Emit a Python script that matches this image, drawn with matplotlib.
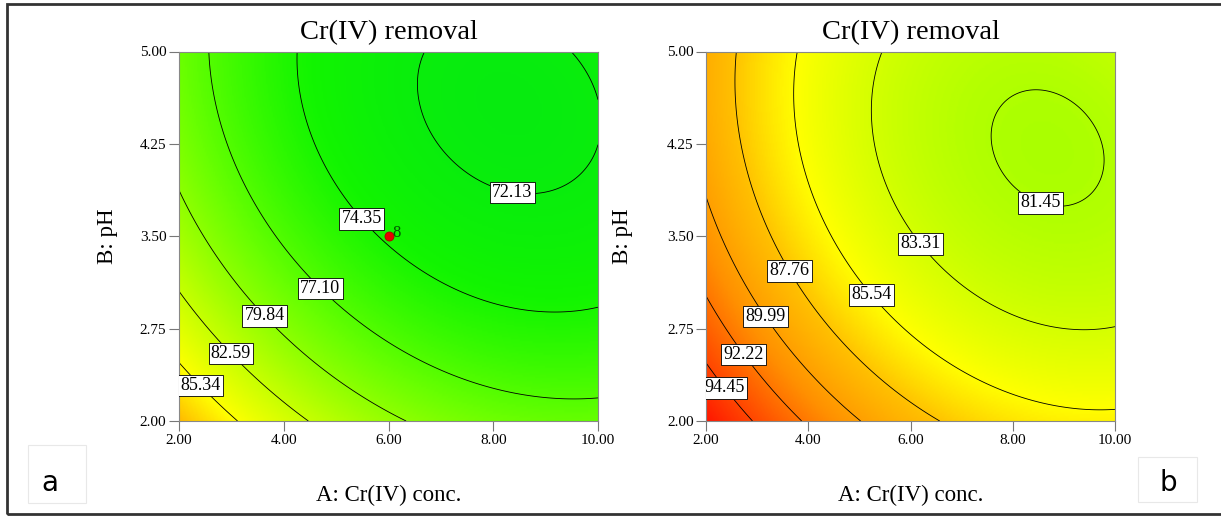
import numpy as np
import matplotlib
matplotlib.use('Agg')
import matplotlib.pyplot as plt
from matplotlib.colors import LinearSegmentedColormap
from matplotlib.patches import Rectangle

# quadratic response-surface models in coded units
# terms: const, a, b, a*b, a^2, b^2   (a = (A-6)/4, b = (B-3.5)/1.5)
coef_a = [74.150, -3.987, -3.848, 1.074, 2.790, 2.247]
coef_b = [83.397, -4.414, -2.847, 1.057, 2.915, 2.238]

# contour levels as labelled
levels_a = [72.13, 74.35, 77.10, 79.84, 82.59, 85.34]
levels_b = [81.45, 83.31, 85.54, 87.76, 89.99, 92.22, 94.45]

# where each level's label sits (A, B)
label_pos_a = [(8.37, 3.87), (5.46, 3.63), (4.75, 3.10), (3.70, 2.88), (3.07, 2.58), (2.47, 2.31)]
label_pos_b = [(8.56, 3.79), (6.23, 3.45), (5.31, 3.05), (3.68, 3.23), (3.21, 2.86), (2.80, 2.56), (2.46, 2.30)]

# design centre point (panel a) and its replicate count
center_A, center_B, center_n = 6.0, 3.5, 8

x_ticks = [2, 4, 6, 8, 10]
y_ticks = [2.0, 2.75, 3.5, 4.25, 5.0]


def design(A, B):
    a = (np.asarray(A) - 6.0) / 4.0
    b = (np.asarray(B) - 3.5) / 1.5
    return np.stack([np.ones_like(a), a, b, a * b, a * a, b * b], axis=-1)


cmap_vals = [70, 74, 78, 82, 85.5, 88, 91, 94, 97]
cmap_cols = ['#00e61a', '#12f500', '#66ff00', '#bbff00', '#ffff00', '#ffbe00', '#ff9000', '#ff5000', '#ff1500']
cmap = LinearSegmentedColormap.from_list(
    'de', [((v - 70) / 27.0, c) for v, c in zip(cmap_vals, cmap_cols)])

serif = 'Liberation Serif'
fig = plt.figure(figsize=(12.21, 5.19), dpi=100)
W, H = 1221.0, 519.0


def panel(rect, coef, levels, lab_pos, ylab_x):
    ax = fig.add_axes(rect)
    A = np.linspace(2, 10, 300)
    B = np.linspace(2, 5, 200)
    AA, BB = np.meshgrid(A, B)
    Z = design(AA, BB) @ np.array(coef)
    ax.imshow(Z, extent=(2, 10, 2, 5), origin='lower', aspect='auto',
              cmap=cmap, vmin=70, vmax=97, interpolation='bilinear')
    cs = ax.contour(AA, BB, Z, levels=levels, colors='k', linewidths=0.6)
    texts = ax.clabel(cs, fmt='%.2f', manual=lab_pos, inline=False, fontsize=13)
    for t in texts:
        t.set_rotation(0)
        t.set_fontfamily(serif)
        t.set_bbox(dict(boxstyle='square,pad=0.12', fc='white', ec='black', lw=0.6))
    ax.set_xlim(2, 10)
    ax.set_ylim(2, 5)
    ax.set_xticks(x_ticks)
    ax.set_xticklabels(['%.2f' % v for v in x_ticks], fontfamily=serif, fontsize=11)
    ax.set_yticks(y_ticks)
    ax.set_yticklabels(['%.2f' % v for v in y_ticks], fontfamily=serif, fontsize=11)
    ax.tick_params(direction='out', length=7, width=0.8, color='#777777', pad=2)
    for s in ax.spines.values():
        s.set_color('#888888')
        s.set_linewidth(0.8)
    ax.text(0.5, 1.05, 'Cr(IV) removal', transform=ax.transAxes, ha='center',
            va='center', fontfamily=serif, fontsize=20.5)
    ax.set_xlabel('A: Cr(IV) conc.', fontfamily=serif, fontsize=16.5)
    ax.xaxis.set_label_coords(0.5, -0.173)
    ax.set_ylabel('B: pH', fontfamily=serif, fontsize=16.5)
    ax.yaxis.set_label_coords(ylab_x, 0.5)
    return ax


ax1 = panel([179 / W, 1 - 421 / H, 419 / W, 369.5 / H], coef_a, levels_a, label_pos_a, -0.145)
ax2 = panel([706 / W, 1 - 421 / H, 409 / W, 369.5 / H], coef_b, levels_b, label_pos_b, -0.178)

ax1.plot([center_A], [center_B], 'o', ms=6.5, mfc='#e80000', mec='#b00000', mew=0.6)
ax1.annotate(str(center_n), (center_A, center_B), xytext=(3, 2), textcoords='offset points',
             fontfamily=serif, fontsize=12, color='#005a00', va='center', ha='left')

# outer frame (its right side lies outside the picture)
fig.patches.append(Rectangle((7 / W, 1 - 514 / H), 1.0, 510 / H, transform=fig.transFigure,
                             fill=False, ec='#333333', lw=2))
for (x0, y0, x1, y1), tag, tx in [((28, 445, 86, 503), 'a', 50), ((1138, 457, 1197, 502), 'b', 1168)]:
    fig.patches.append(Rectangle((x0 / W, 1 - y1 / H), (x1 - x0) / W, (y1 - y0) / H,
                                 transform=fig.transFigure, fc='white', ec='#e8e8e8', lw=0.8))
    fig.text(tx / W, 1 - 483 / H, tag, ha='center', va='center', fontsize=20, fontfamily='DejaVu Sans')

fig.savefig('out.png', dpi=100)
